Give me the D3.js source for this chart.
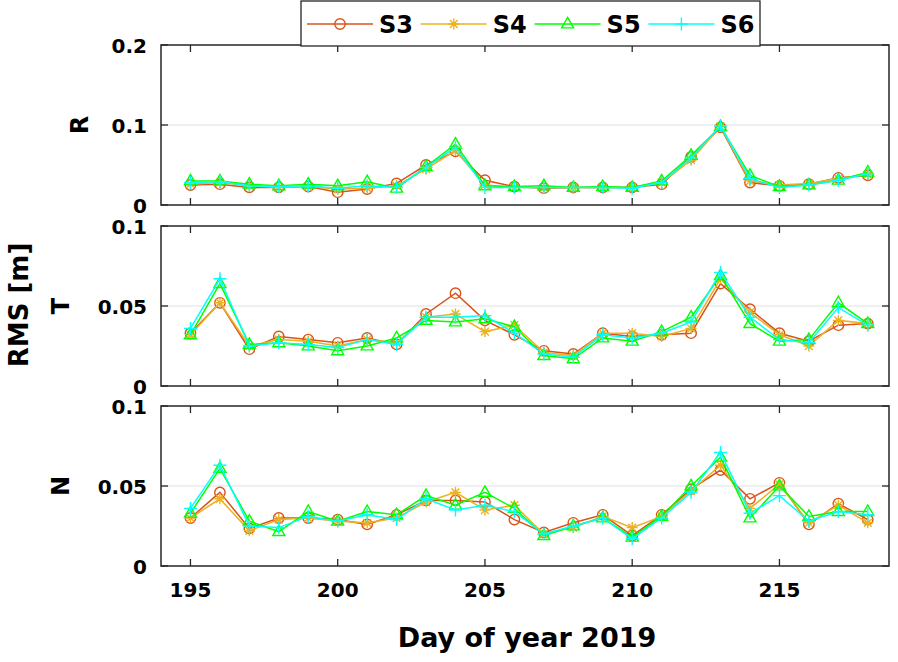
<!DOCTYPE html>
<html><head><meta charset="utf-8">
<script src="https://cdn.jsdelivr.net/npm/d3@7"></script>
<style>body{margin:0;background:#fff}svg{display:block}text{font-family:"DejaVu Sans",sans-serif;font-weight:bold}</style>
</head><body><svg id="c" width="898" height="662"></svg>
<script>
const days = d3.range(195, 219);
const seriesNames = ["S3","S4","S5","S6"];
const colors = ["#D95319","#EDB120","#00FF00","#00FFFF"];
const panelNames = ["R","T","N"];
const yMaxes = [0.2, 0.1, 0.1];
const yTicksR = [0, 0.1, 0.2];
const yTicksTN = [0, 0.05, 0.1];
const xTicks = [195, 200, 205, 210, 215];

const R_S3 = [0.025,0.026,0.022,0.022,0.023,0.016,0.020,0.027,0.050,0.067,0.031,0.023,0.021,0.022,0.022,0.022,0.026,0.060,0.097,0.028,0.024,0.026,0.034,0.037];
const R_S4 = [0.026,0.028,0.024,0.022,0.023,0.020,0.021,0.024,0.045,0.068,0.025,0.022,0.022,0.022,0.022,0.022,0.028,0.056,0.098,0.030,0.025,0.027,0.033,0.038];
const R_S5 = [0.030,0.030,0.026,0.024,0.026,0.024,0.029,0.021,0.048,0.076,0.024,0.023,0.024,0.022,0.023,0.022,0.030,0.062,0.098,0.037,0.023,0.025,0.031,0.041];
const R_S6 = [0.028,0.029,0.024,0.023,0.024,0.021,0.024,0.022,0.047,0.072,0.022,0.022,0.022,0.022,0.022,0.021,0.028,0.059,0.099,0.033,0.022,0.025,0.031,0.039];

const T_S3 = [0.033,0.052,0.023,0.031,0.029,0.027,0.030,0.026,0.045,0.058,0.041,0.032,0.022,0.020,0.033,0.031,0.032,0.033,0.064,0.048,0.033,0.028,0.038,0.039];
const T_S4 = [0.032,0.052,0.025,0.029,0.028,0.025,0.029,0.027,0.043,0.045,0.034,0.038,0.021,0.019,0.033,0.033,0.031,0.036,0.067,0.046,0.032,0.025,0.041,0.039];
const T_S5 = [0.032,0.064,0.026,0.027,0.025,0.022,0.025,0.030,0.041,0.040,0.042,0.037,0.019,0.017,0.030,0.028,0.034,0.043,0.069,0.039,0.028,0.029,0.052,0.039];
const T_S6 = [0.036,0.067,0.025,0.027,0.026,0.024,0.029,0.026,0.043,0.043,0.044,0.033,0.020,0.018,0.032,0.030,0.033,0.040,0.071,0.043,0.029,0.027,0.049,0.038];

const N_S3 = [0.030,0.046,0.0235,0.030,0.030,0.029,0.026,0.032,0.041,0.041,0.040,0.029,0.021,0.027,0.032,0.019,0.032,0.048,0.060,0.042,0.052,0.026,0.039,0.029];
const N_S4 = [0.030,0.042,0.022,0.029,0.030,0.028,0.027,0.030,0.040,0.046,0.035,0.038,0.020,0.024,0.031,0.024,0.031,0.047,0.063,0.036,0.051,0.027,0.038,0.027];
const N_S5 = [0.033,0.061,0.028,0.0215,0.034,0.028,0.034,0.032,0.044,0.038,0.046,0.036,0.019,0.025,0.030,0.018,0.031,0.050,0.068,0.030,0.050,0.031,0.034,0.034];
const N_S6 = [0.036,0.063,0.025,0.024,0.031,0.028,0.032,0.029,0.042,0.035,0.038,0.034,0.020,0.025,0.030,0.017,0.030,0.046,0.071,0.033,0.044,0.028,0.034,0.032];

const panelData = [[R_S3,R_S4,R_S5,R_S6],[T_S3,T_S4,T_S5,T_S6],[N_S3,N_S4,N_S5,N_S6]];
const panelTicks = [yTicksR, yTicksTN, yTicksTN];

const svg = d3.select("#c");
const L = 161, Rr = 889;
const tops = [45, 226, 406], H = 160;
const labelX = [79, 60, 60];
const x = d3.scaleLinear().domain([194, 218.72]).range([L, Rr]);
const axisColor = "#262626";

function circlePath(r){return `M${r},0A${r},${r} 0 1,1 ${-r},0A${r},${r} 0 1,1 ${r},0Z`;}
function starPath(s){const d=s*0.707;return `M${-s},0H${s}M0,${-s}V${s}M${-d},${-d}L${d},${d}M${-d},${d}L${d},${-d}`;}
function triPath(s){return `M0,${-s*1.1}L${s},${s*0.65}L${-s},${s*0.65}Z`;}
function plusPath(s){return `M${-s},0H${s}M0,${-s}V${s}`;}
const markers = [circlePath(5.2), starPath(5.5), triPath(6), plusPath(6.5)];

panelNames.forEach((pn, pi) => {
  const top = tops[pi], bot = top + H;
  const y = d3.scaleLinear().domain([0, yMaxes[pi]]).range([bot, top]);
  const g = svg.append("g");
  g.selectAll("line.grid").data(panelTicks[pi].filter(t => t > 0 && t < yMaxes[pi])).join("line")
    .attr("x1", L).attr("x2", Rr).attr("y1", d => y(d)).attr("y2", d => y(d))
    .attr("stroke", "#e2e2e2").attr("stroke-width", 1.2);
  const tk = 7;
  xTicks.forEach(t => {
    g.append("line").attr("x1", x(t)).attr("x2", x(t)).attr("y1", bot).attr("y2", bot - tk).attr("stroke", axisColor).attr("stroke-width", 1.3);
    g.append("line").attr("x1", x(t)).attr("x2", x(t)).attr("y1", top).attr("y2", top + tk).attr("stroke", axisColor).attr("stroke-width", 1.3);
  });
  panelTicks[pi].forEach(t => {
    g.append("line").attr("x1", L).attr("x2", L + tk).attr("y1", y(t)).attr("y2", y(t)).attr("stroke", axisColor).attr("stroke-width", 1.3);
    g.append("line").attr("x1", Rr).attr("x2", Rr - tk).attr("y1", y(t)).attr("y2", y(t)).attr("stroke", axisColor).attr("stroke-width", 1.3);
    g.append("text").attr("x", L - 14).attr("y", y(t) + 8).attr("text-anchor", "end")
      .attr("font-size", 20).attr("fill", "#000").text(t === 0 ? "0" : String(t));
  });
  const line = d3.line().x((d, i) => x(days[i])).y(d => y(d));
  panelData[pi].forEach((vals, si) => {
    g.append("path").attr("d", line(vals)).attr("fill", "none").attr("stroke", colors[si]).attr("stroke-width", 1.5);
    g.selectAll(null).data(vals).join("path")
      .attr("transform", (d, i) => `translate(${x(days[i])},${y(d)})`)
      .attr("d", markers[si]).attr("fill", "none").attr("stroke", colors[si]).attr("stroke-width", 1.4);
  });
  g.append("rect").attr("x", L).attr("y", top).attr("width", Rr - L).attr("height", H)
    .attr("fill", "none").attr("stroke", axisColor).attr("stroke-width", 1.5);
  g.append("text").attr("transform", `translate(${labelX[pi] + 9},${(top + bot) / 2}) rotate(-90)`)
    .attr("text-anchor", "middle").attr("font-size", 24).attr("fill", "#000").text(pn);
  if (pi === 2) {
    xTicks.forEach(t => {
      g.append("text").attr("x", x(t)).attr("y", bot + 31).attr("text-anchor", "middle")
        .attr("font-size", 20).attr("fill", "#000").text(String(t));
    });
  }
});

svg.append("text").attr("x", 527).attr("y", 647).attr("text-anchor", "middle")
  .attr("font-size", 27).attr("fill", "#000").text("Day of year 2019");
svg.append("text").attr("transform", "translate(28,305) rotate(-90)")
  .attr("text-anchor", "middle").attr("font-size", 26).attr("fill", "#000").text("RMS [m]");

const lg = svg.append("g");
lg.append("rect").attr("x", 301).attr("y", 1).attr("width", 459).attr("height", 45)
  .attr("fill", "#fff").attr("stroke", axisColor).attr("stroke-width", 1.3);
seriesNames.forEach((s, si) => {
  const x0 = 307 + si * 113.8, yc = 24;
  lg.append("line").attr("x1", x0).attr("x2", x0 + 66).attr("y1", yc).attr("y2", yc)
    .attr("stroke", colors[si]).attr("stroke-width", 1.5);
  lg.append("path").attr("transform", `translate(${x0 + 33},${yc})`).attr("d", markers[si])
    .attr("fill", "none").attr("stroke", colors[si]).attr("stroke-width", 1.4);
  lg.append("text").attr("x", x0 + 72).attr("y", yc + 9).attr("font-size", 24).attr("fill", "#000").text(s);
});
</script></body></html>
